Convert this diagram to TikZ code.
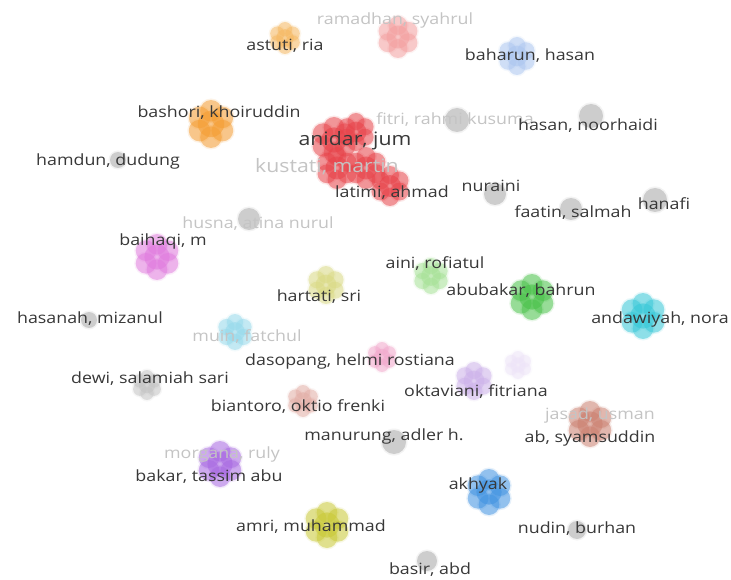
\documentclass[tikz,border=0pt]{standalone}
\usepackage{fontspec}
\setmainfont[FakeStretch=1.15]{Open Sans}
\definecolor{labdark}{HTML}{383838}
\definecolor{labfaint}{HTML}{C4C4C4}
\definecolor{nodegray}{HTML}{C4C4C4}
\definecolor{cOrangeL}{HTML}{F6B860}
\definecolor{cOrange}{HTML}{F59C30}
\definecolor{cRose}{HTML}{F4A0A0}
\definecolor{cSky}{HTML}{ACC6F0}
\definecolor{cRed}{HTML}{E8434A}
\definecolor{cMagenta}{HTML}{E07ADE}
\definecolor{cGreenL}{HTML}{A6E296}
\definecolor{cGreen}{HTML}{48C248}
\definecolor{cKhaki}{HTML}{DADA84}
\definecolor{cCyan}{HTML}{36C8D8}
\definecolor{cCyanL}{HTML}{96DAEC}
\definecolor{cPink}{HTML}{F2A8CC}
\definecolor{cSalmon}{HTML}{E3AEA6}
\definecolor{cLavender}{HTML}{CDB2EA}
\definecolor{cLavenderL}{HTML}{EEE4F8}
\definecolor{cBrown}{HTML}{CB8070}
\definecolor{cPurple}{HTML}{A868E2}
\definecolor{cBlue}{HTML}{3F92E2}
\definecolor{cOlive}{HTML}{C9C935}
\tikzset{
  lab/.style={text=labdark, font=\fontsize{15.5}{17}\selectfont, inner sep=0pt},
  labfaint/.style={lab, text=labfaint},
  biglab/.style={lab, font=\fontsize{18.5}{20}\selectfont},
  bigfaint/.style={biglab, text=labfaint},
}
% #1 name, #2 position, #3 colour, #4 overall radius
\newcommand\authblob[4]{%
  \coordinate (#1) at (#2);
  \foreach \a in {0,60,...,300}
    \fill[#3, fill opacity=0.12] (#1) ++(\a+30:0.55*#4) circle[radius=0.45*#4+1.5];
  \foreach \a in {0,60,...,300}
    \fill[#3, fill opacity=0.5] (#1) ++(\a+30:0.55*#4) circle[radius=0.45*#4];
  \fill[#3, fill opacity=0.55] (#1) circle[radius=0.55*#4];
}
% #1 name, #2 position, #3 radius
\newcommand\authdot[3]{%
  \coordinate (#1) at (#2);
  \fill[nodegray, opacity=0.2] (#1) circle[radius=#3+1.5];
  \fill[nodegray, fill opacity=0.8] (#1) circle[radius=#3];
}
\begin{document}
\begin{tikzpicture}[x=1pt,y=-1pt]
\fill[white] (0,0) rectangle (731,580);
\useasboundingbox (0,0) rectangle (731,580);

% coloured clusters
\authblob{astuti}{285,38}{cOrangeL}{16}
\authblob{ramadhan}{398,37}{cRose}{21}
\authblob{baharun}{517,56}{cSky}{19}
\authblob{bashori}{211,124}{cOrange}{24}
\authblob{anidar}{334,140}{cRed}{23}
\authblob{toprred}{356,132}{cRed}{19}
\authblob{kustati}{337,168}{cRed}{21}
\authblob{midred}{366,168}{cRed}{21}
\authblob{latimi}{390,186}{cRed}{20}
\authblob{baihaqi}{157,257}{cMagenta}{23}
\authblob{aini}{431,276}{cGreenL}{18}
\authblob{abubakar}{532,297}{cGreen}{23}
\authblob{hartati}{326,285}{cKhaki}{19}
\authblob{andawiyah}{643,316}{cCyan}{23}
\authblob{muin}{235,332}{cCyanL}{18}
\authblob{dasopang}{382,357}{cPink}{15}
\authblob{dewi}{147,385}{nodegray}{15}
\authblob{biantoro}{303,401}{cSalmon}{16}
\authblob{oktaviani}{474,381}{cLavender}{19}
\authblob{faintlav}{518,365}{cLavenderL}{14}
\authblob{syamsuddin}{590,424}{cBrown}{23}
\authblob{bakar}{220,464}{cPurple}{23}
\authblob{akhyak}{489,492}{cBlue}{23}
\authblob{amri}{327,525}{cOlive}{23}

% single grey authors
\authdot{hamdun}{118,160}{8}
\authdot{fitri}{457,120}{12}
\authdot{noorhaidi}{591,116}{12}
\authdot{nuraini}{495,194}{11}
\authdot{faatin}{571,209}{11}
\authdot{hanafi}{655,200}{12}
\authdot{husna}{249,219}{11}
\authdot{hasanah}{89,320}{8}
\authdot{manurung}{394,442}{12}
\authdot{nudin}{577,530}{9}
\authdot{basir}{427,561}{10}

% labels
\node[labfaint] (ramadhan-l) at (395,20) {ramadhan, syahrul};
\node[lab] (astuti-l) at (285,46) {astuti, ria};
\node[lab] (baharun-l) at (530,56) {baharun, hasan};
\node[lab] (bashori-l) at (219,113) {bashori, khoiruddin};
\node[biglab] (anidar-l) at (355,141) {anidar, jum};
\node[bigfaint] (kustati-l) at (327,167) {kustati, martin};
\node[lab] (latimi-l) at (392,193) {latimi, ahmad};
\node[labfaint] (fitri-l) at (455,120) {fitri, rahmi kusuma};
\node[lab] (noorhaidi-l) at (588,126) {hasan, noorhaidi};
\node[lab] (hamdun-l) at (108,161) {hamdun, dudung};
\node[lab] (nuraini-l) at (491,186) {nuraini};
\node[lab] (faatin-l) at (573,213) {faatin, salmah};
\node[lab] (hanafi-l) at (664,204) {hanafi};
\node[labfaint] (husna-l) at (258,224) {husna, atina nurul};
\node[lab] (baihaqi-l) at (163,241) {baihaqi, m};
\node[lab] (aini-l) at (435,264) {aini, rofiatul};
\node[lab] (abubakar-l) at (521,291) {abubakar, bahrun};
\node[lab] (hartati-l) at (319,297) {hartati, sri};
\node[lab] (hasanah-l) at (90,319) {hasanah, mizanul};
\node[lab] (andawiyah-l) at (660,319) {andawiyah, nora};
\node[labfaint] (muin-l) at (247,337) {muin, fatchul};
\node[lab] (dasopang-l) at (350,361) {dasopang, helmi rostiana};
\node[lab] (dewi-l) at (150,379) {dewi, salamiah sari};
\node[lab] (oktaviani-l) at (476,392) {oktaviani, fitriana};
\node[lab] (biantoro-l) at (298,407) {biantoro, oktio frenki};
\node[labfaint] (jasad-l) at (600,415) {jasad, usman};
\node[lab] (syamsuddin-l) at (590,438) {ab, syamsuddin};
\node[lab] (manurung-l) at (384,436) {manurung, adler h.};
\node[labfaint] (morgana-l) at (222,454) {morgana, ruly};
\node[lab] (bakar-l) at (209,477) {bakar, tassim abu};
\node[lab] (akhyak-l) at (478,485) {akhyak};
\node[lab] (amri-l) at (311,527) {amri, muhammad};
\node[lab] (nudin-l) at (577,529) {nudin, burhan};
\node[lab] (basir-l) at (430,570) {basir, abd};
\end{tikzpicture}
\end{document}
